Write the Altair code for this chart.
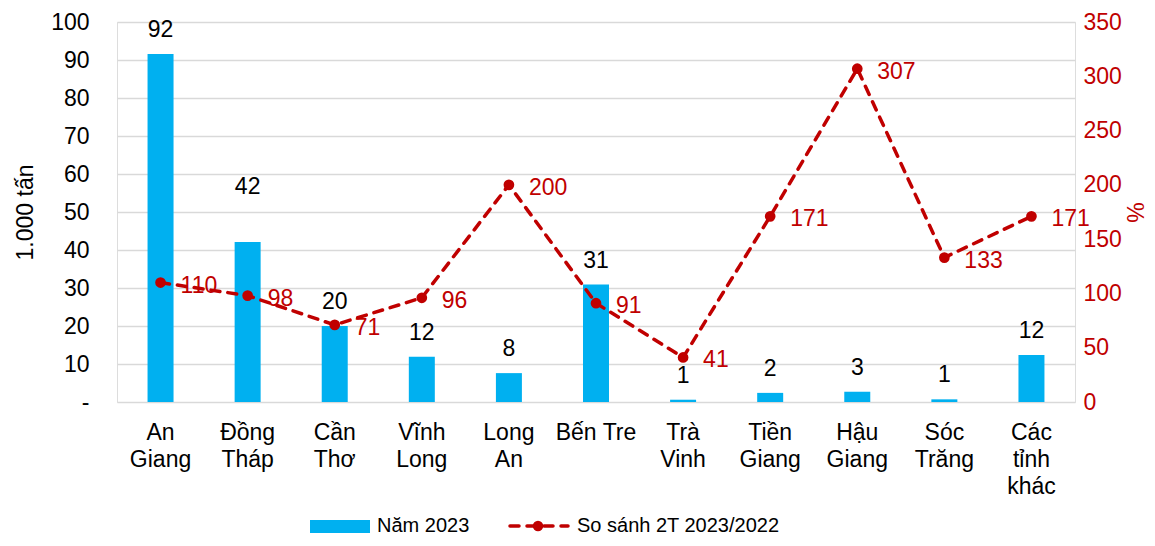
import altair as alt
import pandas as pd

categories = ["An|Giang", "Đồng|Tháp", "Cần|Thơ", "Vĩnh|Long", "Long|An", "Bến Tre",
              "Trà|Vinh", "Tiền|Giang", "Hậu|Giang", "Sóc|Trăng", "Các|tỉnh|khác"]
volume_2023 = [91.6, 42.1, 20.0, 11.9, 7.6, 30.9, 0.6, 2.4, 2.7, 0.7, 12.4]
compare_pct = [110, 98, 71, 96, 200, 91, 41, 171, 307, 133, 171]
left_ticks = [0, 10, 20, 30, 40, 50, 60, 70, 80, 90, 100]
right_ticks = [0, 50, 100, 150, 200, 250, 300, 350]
series_names = ["Năm 2023", "So sánh 2T 2023/2022"]
left_title = "1.000 tấn"
right_title = "%"

BLUE = "#00B0F0"
RED = "#C00000"
FONT = "Liberation Sans"
FS = 23
LFS = 20
DASH = [9, 8]

df = pd.DataFrame({"cat": categories, "vol": volume_2023, "pct": compare_pct})

x = alt.X("cat:N", sort=categories, title=None,
          scale=alt.Scale(paddingInner=0, paddingOuter=0),
          axis=alt.Axis(labelExpr="split(datum.label, '|')", labelAngle=0,
                        ticks=False, domain=False, labelPadding=19,
                        labelFontSize=FS, labelFont=FONT, labelColor="#000000",
                        labelLineHeight=27, labelBaseline="top"))

y_left = alt.Y("vol:Q", scale=alt.Scale(domain=[0, 100], nice=False),
               axis=alt.Axis(values=left_ticks, title=left_title,
                             labelExpr="datum.value == 0 ? '-' : datum.label",
                             ticks=False, domain=False, labelPadding=28,
                             grid=True, gridColor="#D9D9D9", gridWidth=1.3,
                             labelFontSize=FS, labelFont=FONT, labelColor="#000000",
                             titleFontSize=FS, titleFont=FONT, titleFontWeight="normal",
                             titleColor="#000000", titlePadding=13))

y_right = alt.Y("pct:Q", scale=alt.Scale(domain=[0, 350], nice=False),
                axis=alt.Axis(values=right_ticks, title=right_title, orient="right",
                              ticks=False, domain=False, labelPadding=8, grid=False,
                              labelFontSize=FS, labelFont=FONT, labelColor=RED,
                              titleFontSize=FS, titleFont=FONT, titleFontWeight="normal",
                              titleColor=RED, titlePadding=0))

base = alt.Chart(df)

bars = base.mark_bar(color=BLUE, size=26).encode(x=x, y=y_left)
bar_labels = base.transform_filter("datum.cat != 'Đồng|Tháp'").mark_text(
    dy=-24, fontSize=FS, font=FONT, color="#000000", baseline="middle"
).encode(x=x, y=y_left, text=alt.Text("vol:Q", format=".0f"))
bar_label_moved = base.transform_filter("datum.cat == 'Đồng|Tháp'").mark_text(
    dy=-55, fontSize=FS, font=FONT, color="#000000", baseline="middle"
).encode(x=x, y=y_left, text=alt.Text("vol:Q", format=".0f"))

leg1 = pd.DataFrame({"name": [series_names[0]]})
leg2 = pd.DataFrame({"name": [series_names[1]]})
LY = 504
leg_rect = alt.Chart(leg1).mark_rect(color=BLUE).encode(
    x=alt.value(193), x2=alt.value(253), y=alt.value(LY - 6), y2=alt.value(LY + 7))
leg_text1 = alt.Chart(leg1).mark_text(align="left", baseline="middle", fontSize=LFS,
                                      font=FONT, color="#000000").encode(
    x=alt.value(260), y=alt.value(LY), text="name:N")
leg_line = alt.Chart(leg2).mark_rule(color=RED, strokeWidth=3.5, strokeDash=DASH,
                                     strokeCap="round").encode(
    x=alt.value(393), x2=alt.value(451), y=alt.value(LY))
leg_pt = alt.Chart(leg2).mark_point(filled=True, color=RED, size=110, opacity=1).encode(
    x=alt.value(421), y=alt.value(LY))
leg_text2 = alt.Chart(leg2).mark_text(align="left", baseline="middle", fontSize=LFS,
                                      font=FONT, color="#000000").encode(
    x=alt.value(460), y=alt.value(LY), text="name:N")

left_layer = alt.layer(bars, bar_labels, bar_label_moved,
                       leg_rect, leg_text1, leg_line, leg_pt, leg_text2)

line = base.mark_line(color=RED, strokeWidth=3.5, strokeDash=DASH,
                      strokeCap="round").encode(x=x, y=y_right)
pts = base.mark_point(filled=True, color=RED, size=115, opacity=1).encode(x=x, y=y_right)
line_labels = base.mark_text(align="left", baseline="middle", dx=20, dy=3,
                             fontSize=FS, font=FONT, color=RED).encode(
    x=x, y=y_right, text=alt.Text("pct:Q", format=".0f"))

right_layer = alt.layer(line, pts, line_labels)

chart = alt.layer(left_layer, right_layer).resolve_scale(y="independent").properties(
    width=958, height=380,
    autosize=alt.AutoSizeParams(type="none"),
    padding={"left": 109, "top": 14, "right": 72, "bottom": 136},
).configure_view(stroke=None).configure(background="white")

chart.save("out.html", embed_options={"renderer": "svg", "actions": False})
